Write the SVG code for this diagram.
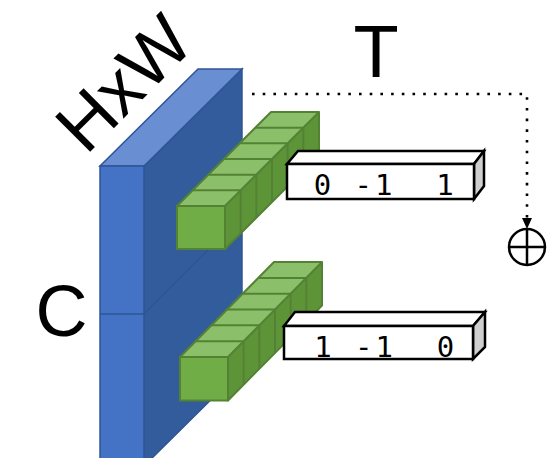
<svg xmlns="http://www.w3.org/2000/svg" xmlns:xlink="http://www.w3.org/1999/xlink" width="551" height="458" viewBox="0 0 551 458">
  <style>
    .blue-front { fill: #4472C4; stroke: #2F5597; stroke-width: 1.5; }
    .blue-top { fill: #6A8ED2; stroke: #2F5597; stroke-width: 1.5; }
    .blue-side { fill: #335C9C; stroke: #2F5597; stroke-width: 1.5; }
    .g-front { fill: #70AD47; }
    .g-top { fill: #8CBF6A; }
    .g-side { fill: #5E9438; }
    .g-line { stroke: #548235; stroke-width: 2; fill: none; stroke-linejoin: round; }
    .box { stroke: #000; stroke-width: 2.5; stroke-linejoin: miter; }
    .box-face { fill: #FFFFFF; }
    .box-side { fill: #CFCFCF; }
    .mono { font-family: "DejaVu Sans Mono", "Liberation Mono", monospace; font-size: 29px; letter-spacing: 2.95px; white-space: pre; fill: #000; }
    .label { font-family: "Liberation Sans", Arial, sans-serif; fill: #000; }
    .dots { fill: none; stroke: #000; stroke-width: 2.6; stroke-dasharray: 2.6 8.1; }
  </style>
  <defs>
    <!-- a row of six cubes receding diagonally; origin = front top-left corner -->
    <g id="cube-row">
      <path class="g-top" d="M0,0 H48 L142,-94 H94 Z"/>
      <path class="g-side" d="M48,0 L142,-94 V-51 L48,43 Z"/>
      <rect class="g-front" x="0" y="0" width="48" height="43"/>
      <path class="g-line" d="M15.67,-15.67 H63.67 M31.33,-31.33 H79.33 M47,-47 H95 M62.67,-62.67 H110.67 M78.33,-78.33 H126.33"/>
      <path class="g-line" d="M63.67,-15.67 V27.33 M79.33,-31.33 V11.67 M95,-47 V-4 M110.67,-62.67 V-19.67 M126.33,-78.33 V-35.33"/>
      <path class="g-line" d="M0,0 H48 L142,-94 H94 Z M48,0 L142,-94 V-51 L48,43 Z"/>
      <rect class="g-line" x="0" y="0" width="48" height="43"/>
    </g>
    <marker id="tip" viewBox="0 0 11 10" refX="0" refY="5" markerWidth="11" markerHeight="10" orient="auto" markerUnits="userSpaceOnUse">
      <path d="M0,0 L11,5 L0,10 Z" fill="#000"/>
    </marker>
  </defs>

  <!-- feature block: C x HxW -->
  <g id="feature-block">
    <path class="blue-side" d="M144,166 L242,69 V369 L144,466 Z"/>
    <path class="blue-top" d="M100,166 H144 L242,69 H198 Z"/>
    <rect class="blue-front" x="100" y="166" width="44" height="300"/>
    <path d="M100,314 H144 L242,216" fill="none" stroke="#2F5597" stroke-width="1.5"/>
  </g>

  <!-- upper channel group -->
  <g id="cubes-upper">
    <use xlink:href="#cube-row" href="#cube-row" transform="translate(177,206)"/>
  </g>

  <!-- lower channel group -->
  <g id="cubes-lower">
    <use xlink:href="#cube-row" href="#cube-row" transform="translate(180,357) scale(1,1.01)"/>
  </g>

  <!-- shift kernel, upper -->
  <g id="kernel-upper">
    <path class="box box-face" d="M287,164 L298,151 H484 L474,164 Z"/>
    <path class="box box-side" d="M474,164 L484,151 V186 L474,199 Z"/>
    <rect class="box box-face" x="287" y="164" width="187" height="35"/>
    <text class="mono" x="313.8" y="195">0 -1  1</text>
  </g>

  <!-- shift kernel, lower -->
  <g id="kernel-lower">
    <path class="box box-face" d="M284,326 L295,312 H485 L473,326 Z"/>
    <path class="box box-side" d="M473,326 L485,312 V347 L473,359 Z"/>
    <rect class="box box-face" x="284" y="326" width="189" height="33"/>
    <text class="mono" x="314.2" y="357">1 -1  0</text>
  </g>

  <!-- summation -->
  <g id="sum">
    <circle cx="527" cy="247" r="18" fill="none" stroke="#000" stroke-width="2.5"/>
    <path d="M509,247 H545 M527,229 V265" stroke="#000" stroke-width="2.5"/>
  </g>

  <g id="connectors">
    <path class="dots" d="M252,94 H527 V218" marker-end="url(#tip)"/>
  </g>

  <g id="labels">
    <text class="label" x="376" y="77" font-size="74" text-anchor="middle">T</text>
    <text class="label" x="61.5" y="336" font-size="72" text-anchor="middle">C</text>
    <text class="label" font-size="72" transform="translate(86,156) rotate(-45)">HxW</text>
  </g>
</svg>
